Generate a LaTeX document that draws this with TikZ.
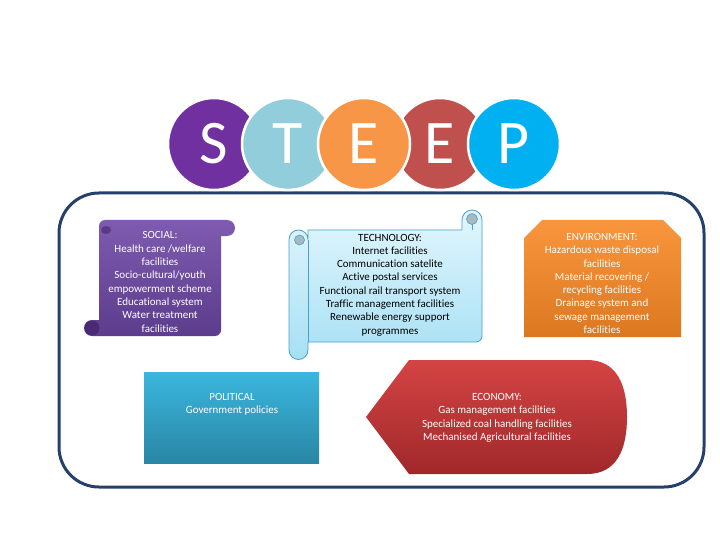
\documentclass[tikz,border=0pt]{standalone}
\usepackage{fontspec}
\setmainfont[Ligatures={NoCommon}]{Carlito}
\definecolor{navy}{HTML}{24406B}
\definecolor{cS}{HTML}{7030A0}
\definecolor{cT}{HTML}{92CDDC}
\definecolor{cE}{HTML}{F79646}
\definecolor{cEr}{HTML}{C0504D}
\definecolor{cP}{HTML}{00B0F0}
\definecolor{socT}{HTML}{7E5BB0}
\definecolor{socB}{HTML}{5C3C8C}
\definecolor{socD}{HTML}{4A2A72}
\definecolor{tecT}{HTML}{E2F6FD}
\definecolor{tecB}{HTML}{A6E0F4}
\definecolor{tecL}{HTML}{4A9FCB}
\definecolor{tecG}{HTML}{A9B9C2}
\definecolor{envT}{HTML}{F8953D}
\definecolor{envB}{HTML}{DC7820}
\definecolor{polT}{HTML}{3BB6DE}
\definecolor{polB}{HTML}{2A86A4}
\definecolor{ecoT}{HTML}{D44444}
\definecolor{ecoB}{HTML}{A0282A}
\begin{document}
\begin{tikzpicture}[x=1pt,y=-1pt]
\tikzset{
  txt/.style={font=\fontsize{11}{13.3}\selectfont, align=center, text=white, inner sep=0pt},
  ball/.style={circle, minimum size=92pt, inner sep=0pt, draw=white, line width=2.5pt, text=white, font=\fontsize{62}{62}\selectfont},
}
\useasboundingbox (0,0) rectangle (720,540);
\fill[white] (0,0) rectangle (720,540);
% outer frame
\draw[navy, line width=3pt, rounded corners=40pt] (59,193) rectangle (704,487);
% STEEP circles
\node[ball, fill=cS] (cs) at (214,144) {S};
\node[ball, fill=cT] (ct) at (288,144) {T};
\node[ball, fill=cEr] (cer) at (440,144) {E};
\node[ball, fill=cE] (ce) at (364,144) {E};
\node[ball, fill=cP] (cp) at (514,144) {P};
% SOCIAL horizontal scroll
\shade[top color=socT, bottom color=socB]
  (99,320) -- (99,226) arc[start angle=180,end angle=270,radius=6]
  -- (227,220) arc[start angle=-90,end angle=90,radius=8]
  -- (221,236) -- (221,330) arc[start angle=0,end angle=90,radius=6]
  -- (92,336) arc[start angle=90,end angle=270,radius=8] -- cycle;
\fill[socD] (92,328) circle (7.5);
\fill[socD!70!socT] (106,230) ellipse (5 and 4);
\node[txt] (soc) at (160,282) {SOCIAL:\\Health care /welfare\\facilities\\Socio-cultural/youth\\empowerment scheme\\Educational system\\Water treatment\\facilities};
% TECHNOLOGY vertical scroll
\shade[top color=tecT, bottom color=tecB, draw=tecL, line width=0.8pt]
  (308,230) -- (462,230) -- (462,220) arc[start angle=180,end angle=360,radius=10]
  -- (482,336) arc[start angle=0,end angle=90,radius=6]
  -- (308,342) -- (308,350) arc[start angle=0,end angle=180,radius=9.5]
  -- (289,239.5) arc[start angle=180,end angle=360,radius=9.5] -- cycle;
\draw[tecL, line width=0.8pt] (308,239.5) -- (308,342);
\draw[tecL, line width=0.8pt] (472,224) -- (472,230);
\filldraw[fill=tecG, draw=tecL, line width=0.6pt] (472,219) circle (5.5);
\filldraw[fill=tecG, draw=tecL, line width=0.6pt] (299.5,240) circle (5);
\node[txt, text=black] (tec) at (390,285) {TECHNOLOGY:\\Internet facilities\\Communication satelite\\Active postal services\\Functional rail transport system\\Traffic management facilities\\Renewable energy support\\programmes};
% ENVIRONMENT snipped box
\shade[top color=envT, bottom color=envB]
  (524,238) -- (542,220) -- (663,220) -- (681,238) -- (681,337) -- (524,337) -- cycle;
\node[txt] (env) at (602,283.5) {ENVIRONMENT:\\Hazardous waste disposal\\facilities\\Material recovering /\\recycling facilities\\Drainage system and\\sewage management\\facilities};
% POLITICAL box
\shade[top color=polT, bottom color=polB] (144,372) rectangle (319,463);
\node[txt] (pol) at (232,404) {POLITICAL\\Government policies};
% ECONOMY shape
\shade[top color=ecoT, bottom color=ecoB]
  (366,417) -- (409,360) -- (587,360) .. controls (617,360) and (627,385) .. (627,417)
  .. controls (627,449) and (617,474) .. (587,474) -- (409,474) -- cycle;
\node[txt] (eco) at (497,418) {ECONOMY:\\Gas management facilities\\Specialized coal handling facilities\\Mechanised Agricultural facilities};
\end{tikzpicture}
\end{document}
